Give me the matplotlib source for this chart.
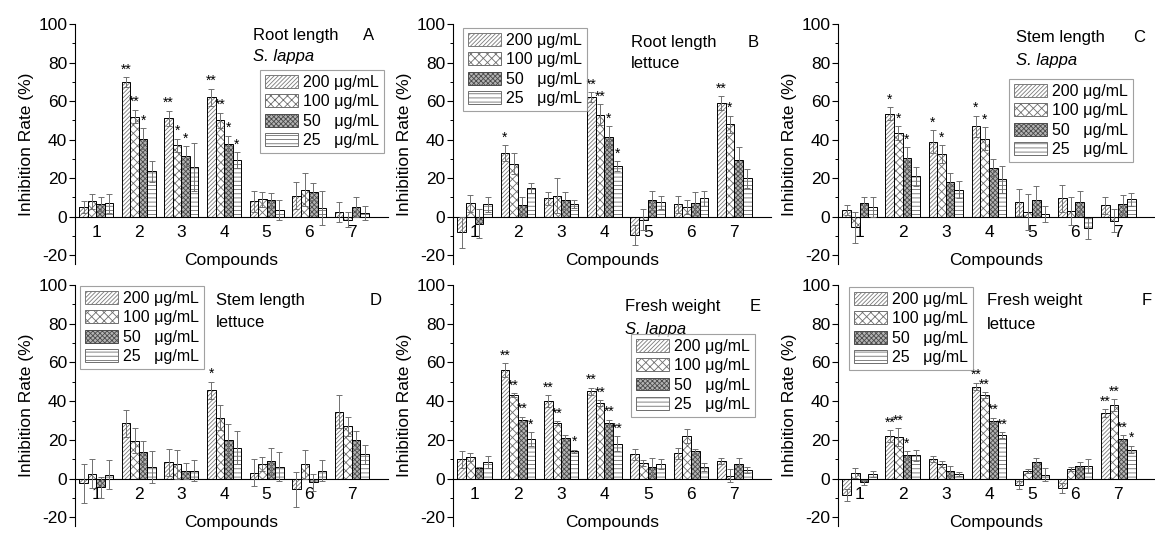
import matplotlib
matplotlib.use("Agg")
import matplotlib.pyplot as plt
from matplotlib.ticker import MultipleLocator
from matplotlib.patches import Patch
import numpy as np

plt.rcParams["font.family"] = ["Liberation Sans", "DejaVu Sans"]
plt.rcParams["axes.unicode_minus"] = False
plt.rcParams["hatch.linewidth"] = 0.6

# ------------------------------------------------------------------
# data (inhibition rate %, mean and error, per concentration)
# ------------------------------------------------------------------
compounds = ["1", "2", "3", "4", "5", "6", "7"]
conc_labels = ["200 μg/mL", "100 μg/mL", "50   μg/mL", "25   μg/mL"]

# A: root length, S. lappa
a_200 = [5, 70, 51, 62, 8, 11, 2.5]
a_100 = [8, 52, 37, 50, 9, 14, -1.5]
a_50 = [6.5, 40.5, 31.5, 37.5, 8.5, 13, 5]
a_25 = [7, 23.5, 26, 29.5, 3.5, 4.5, 2]
a_err_200 = [3, 2.5, 4, 4.5, 5.5, 7, 5]
a_err_100 = [4, 3.5, 3.5, 4, 4, 8.5, 4]
a_err_50 = [3.5, 5.5, 5, 4.5, 4, 4.5, 5]
a_err_25 = [5, 5.5, 12.5, 4, 5, 9, 3.5]
a_sig_200 = ["", "**", "**", "**", "", "", ""]
a_sig_100 = ["", "**", "*", "**", "", "", ""]
a_sig_50 = ["", "*", "*", "*", "", "", ""]
a_sig_25 = ["", "", "", "*", "", "", ""]

# B: root length, lettuce
b_200 = [-8, 33, 9.5, 62, -9.5, 6.5, 59]
b_100 = [7, 27.5, 11, 53, -1.5, 5, 48]
b_50 = [-3.5, 6, 8.5, 41.5, 8.5, 7, 29.5]
b_25 = [6.5, 15, 6.5, 26.5, 7.5, 9.5, 20]
b_err_200 = [8, 4, 3.5, 2.5, 5, 4.5, 3.5]
b_err_100 = [4.5, 5.5, 9, 5.5, 5.5, 3.5, 4.5]
b_err_50 = [7.5, 4.5, 4.5, 5.5, 5, 6, 6.5]
b_err_25 = [4, 2.5, 2, 2.5, 3.5, 4, 5]
b_sig_200 = ["", "*", "", "**", "", "", "**"]
b_sig_100 = ["", "", "", "**", "", "", "*"]
b_sig_50 = ["", "", "", "*", "", "", ""]
b_sig_25 = ["", "", "", "*", "", "", ""]

# C: stem length, S. lappa
c_200 = [3.5, 53.5, 39, 47, 7.5, 9.5, 6]
c_100 = [-5.5, 43.5, 32.5, 40.5, 2.5, 3, -2]
c_50 = [7, 30.5, 18, 25.5, 8.5, 7.5, 6.5]
c_25 = [5, 21, 14, 19.5, 1.5, -6, 9]
c_err_200 = [2.5, 3.5, 6, 5.5, 7, 7, 4.5]
c_err_100 = [8, 3.5, 4.5, 6, 9.5, 7.5, 6]
c_err_50 = [3.5, 5.5, 4.5, 4.5, 7.5, 6, 5]
c_err_25 = [5, 5, 4.5, 7, 4, 5.5, 3.5]
c_sig_200 = ["", "*", "*", "*", "", "", ""]
c_sig_100 = ["", "*", "*", "*", "", "", ""]
c_sig_50 = ["", "*", "", "", "", "", ""]
c_sig_25 = ["", "", "", "", "", "", ""]

# D: stem length, lettuce
d_200 = [-2.5, 28.5, 8.5, 45.5, 3, -5.5, 34.5]
d_100 = [2.5, 19.5, 7.5, 31.5, 7.5, 7.5, 27]
d_50 = [-4.5, 13.5, 4, 20, 9, -2, 20]
d_25 = [2, 6, 4, 16, 6, 4, 12.5]
d_err_200 = [10, 7, 7, 4.5, 7, 9, 8.5]
d_err_100 = [7.5, 6.5, 7.5, 6.5, 3.5, 7.5, 5]
d_err_50 = [5.5, 6, 4, 8, 7, 4.5, 4.5]
d_err_25 = [7.5, 8.5, 5.5, 8.5, 7.5, 5.5, 5]
d_sig_200 = ["", "", "", "*", "", "", ""]
d_sig_100 = ["", "", "", "", "", "", ""]
d_sig_50 = ["", "", "", "", "", "", ""]
d_sig_25 = ["", "", "", "", "", "", ""]

# E: fresh weight, S. lappa
e_200 = [10, 56, 40, 45, 12.5, 13, 9]
e_100 = [11, 43, 28.5, 39, 8, 22, 1.5]
e_50 = [5.5, 30.5, 21, 28.5, 6, 14, 7.5]
e_25 = [8.5, 20.5, 14, 18, 7.5, 6, 4.5]
e_err_200 = [4.5, 3.5, 3, 2, 3, 3, 1.5]
e_err_100 = [2, 1, 1, 1.5, 1.5, 3.5, 3.5]
e_err_50 = [0.7, 1.5, 1.5, 2, 4.5, 1.5, 3]
e_err_25 = [3, 3.5, 1, 4, 2.5, 2, 1.5]
e_sig_200 = ["", "**", "**", "**", "", "", ""]
e_sig_100 = ["", "**", "**", "**", "", "", ""]
e_sig_50 = ["", "**", "", "**", "", "", ""]
e_sig_25 = ["", "*", "*", "**", "", "", ""]

# F: fresh weight, lettuce
f_200 = [-8.5, 22, 10, 47.5, -3.5, -5, 34]
f_100 = [3, 21.5, 7.5, 43, 4, 5, 38]
f_50 = [-2, 12, 4, 30, 8.5, 6.5, 20.5]
f_25 = [2.5, 12, 2.5, 22.5, 2, 6.5, 15]
f_err_200 = [3, 3, 1.5, 2, 2, 2.5, 2]
f_err_100 = [2.5, 4.5, 1.5, 1.5, 1, 1, 3]
f_err_50 = [1.5, 2, 2.5, 1.5, 2, 2, 2]
f_err_25 = [1.5, 3, 1, 1.5, 3.5, 3.5, 2]
f_sig_200 = ["", "**", "", "**", "", "", "**"]
f_sig_100 = ["", "**", "", "**", "", "", "**"]
f_sig_50 = ["", "*", "", "**", "", "", "**"]
f_sig_25 = ["", "", "", "**", "", "", "*"]

# ------------------------------------------------------------------
# styles
# ------------------------------------------------------------------
hatches = ["////////", "xxxx", "xxxxxxx", "----"]
face_cols = ["white", "white", "#b4b4b4", "white"]
hatch_cols = ["#7a7a7a", "#6e6e6e", "#4a4a4a", "#6e6e6e"]
offsets = [-0.3, -0.1, 0.1, 0.3]
bar_w = 0.2

W, H = 1155, 538
# axes boxes in pixels: (left, right) and (top, bottom)
col_x = [(75, 388), (453, 771), (838, 1155)]
row_y = [(24, 264), (285, 526)]


def axes_rect(c, r):
    x0, x1 = col_x[c]
    y0, y1 = row_y[r]
    return [x0 / W, 1 - y1 / H, (x1 - x0) / W, (y1 - y0) / H]


panels = [
    dict(pos=(0, 0), vals=[a_200, a_100, a_50, a_25],
         errs=[a_err_200, a_err_100, a_err_50, a_err_25],
         sigs=[a_sig_200, a_sig_100, a_sig_50, a_sig_25],
         title="Root length", letter="A", species="S. lappa",
         t_xy=(0.569, 0.954), l_x=0.92, s_y=0.8625, leg=(0.591, 0.808)),
    dict(pos=(1, 0), vals=[b_200, b_100, b_50, b_25],
         errs=[b_err_200, b_err_100, b_err_50, b_err_25],
         sigs=[b_sig_200, b_sig_100, b_sig_50, b_sig_25],
         title="Root length", letter="B", species="lettuce",
         t_xy=(0.56, 0.921), l_x=0.925, s_y=0.8375, leg=(0.031, 0.983)),
    dict(pos=(2, 0), vals=[c_200, c_100, c_50, c_25],
         errs=[c_err_200, c_err_100, c_err_50, c_err_25],
         sigs=[c_sig_200, c_sig_100, c_sig_50, c_sig_25],
         title="Stem length", letter="C", species="S. lappa",
         t_xy=(0.5615, 0.942), l_x=0.93, s_y=0.85, leg=(0.539, 0.771)),
    dict(pos=(0, 1), vals=[d_200, d_100, d_50, d_25],
         errs=[d_err_200, d_err_100, d_err_50, d_err_25],
         sigs=[d_sig_200, d_sig_100, d_sig_50, d_sig_25],
         title="Stem length", letter="D", species="lettuce",
         t_xy=(0.45, 0.934), l_x=0.942, s_y=0.846, leg=(0.016, 0.996)),
    dict(pos=(1, 1), vals=[e_200, e_100, e_50, e_25],
         errs=[e_err_200, e_err_100, e_err_50, e_err_25],
         sigs=[e_sig_200, e_sig_100, e_sig_50, e_sig_25],
         title="Fresh weight", letter="E", species="S. lappa",
         t_xy=(0.541, 0.909), l_x=0.934, s_y=0.817, leg=(0.56, 0.797)),
    dict(pos=(2, 1), vals=[f_200, f_100, f_50, f_25],
         errs=[f_err_200, f_err_100, f_err_50, f_err_25],
         sigs=[f_sig_200, f_sig_100, f_sig_50, f_sig_25],
         title="Fresh weight", letter="F", species="lettuce",
         t_xy=(0.47, 0.934), l_x=0.959, s_y=0.838, leg=(0.035, 0.992)),
]

fig = plt.figure(figsize=(W / 100, H / 100), dpi=100)
x = np.arange(1, len(compounds) + 1)

for p in panels:
    ax = fig.add_axes(axes_rect(*p["pos"]))
    for k in range(4):
        xs = x + offsets[k]
        v = np.array(p["vals"][k])
        e = np.array(p["errs"][k])
        # hatched fill, then black outline on top
        ax.bar(xs, v, bar_w, color=face_cols[k], hatch=hatches[k],
               edgecolor=hatch_cols[k], linewidth=0, zorder=2)
        ax.bar(xs, v, bar_w, facecolor="none", edgecolor="black",
               linewidth=0.7, zorder=3)
        ax.errorbar(xs, v, yerr=e, fmt="none", ecolor="#707070",
                    elinewidth=0.7, capsize=2.2, capthick=0.7, zorder=4)
        for xi, vi, ei, s in zip(xs, v, e, p["sigs"][k]):
            if s:
                top = max(vi, 0) + ei
                ax.text(xi, top + 0.3, s, ha="center", va="bottom",
                        fontsize=10, zorder=5)

    ax.set_xlim(0.5, 7.85)
    ax.set_ylim(-24.5, 100)
    ax.yaxis.set_major_locator(MultipleLocator(20))
    ax.yaxis.set_minor_locator(MultipleLocator(10))
    ax.set_xticks(x)
    ax.set_xticklabels(compounds)
    ax.tick_params(axis="x", length=0, pad=6, labelsize=12.5)
    ax.tick_params(axis="y", which="major", direction="out", length=4,
                   width=0.8, labelsize=12.5, pad=1.5)
    ax.tick_params(axis="y", which="minor", direction="out", length=2.5,
                   width=0.7)
    for side in ["top", "right"]:
        ax.spines[side].set_visible(False)
    ax.spines["bottom"].set_position(("data", 0))
    ax.spines["bottom"].set_linewidth(0.8)
    ax.spines["left"].set_linewidth(0.8)

    ax.set_ylabel("Inhibition Rate (%)", fontsize=12.5, labelpad=3)
    ax.set_xlabel("Compounds", fontsize=12.5)
    ax.xaxis.set_label_coords(0.5, 0.045)

    tx, ty = p["t_xy"]
    ax.text(tx, ty, p["title"], transform=ax.transAxes, fontsize=12,
            va="center", ha="left")
    ax.text(p["l_x"], ty, p["letter"], transform=ax.transAxes, fontsize=12,
            va="center", ha="left")
    ax.text(tx, p["s_y"], p["species"], transform=ax.transAxes,
            fontsize=12, va="center", ha="left",
            style="italic" if p["species"] == "S. lappa" else "normal")

    handles = [Patch(facecolor=face_cols[k], hatch=hatches[k],
                     edgecolor=hatch_cols[k], linewidth=0.7)
               for k in range(4)]
    leg = ax.legend(handles, conc_labels, loc="upper left",
                    bbox_to_anchor=p["leg"], borderaxespad=0,
                    fontsize=11.5, frameon=True, fancybox=False,
                    handlelength=2.1, handleheight=0.85,
                    handletextpad=0.3, labelspacing=0.28, borderpad=0.3)
    leg.get_frame().set_edgecolor("#8a8a8a")
    leg.get_frame().set_linewidth(0.8)
    leg.set_zorder(6)

fig.savefig("out.png", dpi=100)
